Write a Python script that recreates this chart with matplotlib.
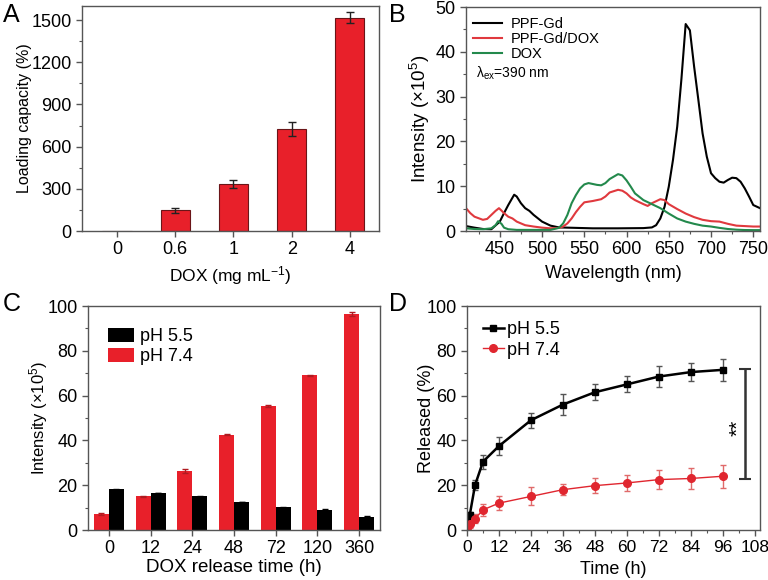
import numpy as np
import matplotlib
matplotlib.use("Agg")
import matplotlib.pyplot as plt
from matplotlib.ticker import MultipleLocator
from matplotlib.lines import Line2D

plt.rcParams['font.family'] = ['Liberation Sans', 'DejaVu Sans']
plt.rcParams['mathtext.default'] = 'regular'
plt.rcParams['font.size'] = 13
plt.rcParams['axes.edgecolor'] = '#555555'
plt.rcParams['axes.linewidth'] = 1.0
plt.rcParams['xtick.color'] = '#555555'
plt.rcParams['ytick.color'] = '#555555'
plt.rcParams['xtick.labelcolor'] = 'black'
plt.rcParams['ytick.labelcolor'] = 'black'

RED = '#e8202a'
GREEN = '#23894c'

# ---- A: loading capacity
dox_conc = ['0', '0.6', '1', '2', '4']
loading = [0, 146, 333, 728, 1517]
loading_err = [0, 16, 27, 50, 38]

# ---- B: emission spectra
wl_gd = [410, 420, 430, 440, 450, 455, 460, 467, 470, 475, 480, 485, 490, 500, 510, 520,
         530, 540, 560, 590, 620, 630, 635, 640, 645, 650, 655, 660, 665, 670, 675, 680,
         685, 690, 695, 700, 705, 710, 715, 720, 725, 730, 735, 740, 745, 750, 758]
int_gd = [1.1, 0.75, 0.45, 0.4, 2.1, 4.0, 5.8, 8.1, 7.7, 6.2, 5.1, 4.5, 3.6, 2.1, 1.2, 0.8,
          0.75, 0.7, 0.6, 0.6, 0.65, 0.8, 1.3, 2.8, 5.4, 9.9, 15.9, 23.3, 34.0, 46.2, 44.8, 36.7,
          29.3, 21.8, 16.6, 12.9, 11.8, 11.0, 10.8, 11.4, 11.9, 11.8, 11.0, 9.5, 7.7, 5.8, 5.1]

wl_gd_dox = [410, 415, 420, 430, 435, 440, 445, 449, 455, 460, 465, 470, 480, 490, 500, 510,
             520, 525, 530, 535, 540, 545, 550, 560, 570, 575, 580, 590, 595, 600, 605, 610,
             620, 625, 630, 640, 645, 650, 660, 670, 680, 690, 700, 710, 720, 730, 740, 750, 758]
int_gd_dox = [5.1, 4.0, 3.2, 2.5, 2.7, 3.6, 4.5, 5.1, 4.0, 3.2, 2.8, 2.1, 1.3, 1.0, 0.75, 0.6,
              0.7, 1.0, 1.7, 2.8, 4.2, 5.4, 6.4, 6.7, 7.1, 7.7, 8.6, 9.2, 9.0, 8.4, 7.5, 6.9,
              6.0, 5.6, 6.2, 7.1, 6.9, 6.0, 4.9, 3.9, 3.1, 2.5, 2.2, 2.1, 1.6, 1.2, 1.1, 1.0, 1.0]

wl_dox = [410, 420, 430, 440, 445, 448, 452, 455, 460, 470, 510, 520, 525, 530, 535, 540,
          545, 550, 555, 560, 565, 570, 575, 580, 590, 595, 600, 605, 610, 620, 630, 640,
          650, 660, 670, 680, 690, 700, 710, 720, 730, 740, 750, 758]
int_dox = [0.6, 0.45, 0.4, 0.6, 1.3, 2.2, 1.6, 0.75, 0.4, 0.25, 0.25, 0.7, 1.7, 3.6, 6.2, 8.0,
           9.5, 10.4, 10.7, 10.5, 10.3, 10.2, 10.7, 11.6, 12.7, 12.4, 11.3, 9.9, 8.4, 6.9, 6.0, 5.1,
           3.9, 2.8, 2.1, 1.6, 1.2, 1.0, 0.7, 0.45, 0.3, 0.22, 0.2, 0.2]

# ---- C: release intensity
release_time = ['0', '12', '24', '48', '72', '120', '360']
int_ph55 = [18.2, 16.5, 15.0, 12.5, 10.2, 9.0, 6.0]
int_ph55_err = [0.2, 0.2, 0.2, 0.2, 0.2, 0.4, 0.4]
int_ph74 = [7.2, 15.0, 26.3, 42.6, 55.4, 69.0, 96.4]
int_ph74_err = [0.4, 0.3, 0.9, 0.3, 0.3, 0.4, 0.9]

# ---- D: cumulative release
t_h = [0, 1, 3, 6, 12, 24, 36, 48, 60, 72, 84, 96]
rel_ph55 = [4.0, 6.5, 20.0, 30.5, 37.5, 49.0, 56.0, 61.5, 65.0, 68.5, 70.5, 71.5]
rel_ph55_err = [0.8, 1.5, 2.3, 3.2, 4.0, 3.3, 4.7, 3.5, 3.6, 4.6, 4.0, 5.0]
rel_ph74 = [0.8, 2.5, 5.0, 9.0, 12.0, 15.0, 18.0, 19.8, 21.0, 22.5, 23.0, 24.0]
rel_ph74_err = [0.8, 1.5, 2.0, 2.6, 3.0, 4.0, 2.5, 3.5, 3.7, 4.2, 4.5, 5.2]

fig = plt.figure(figsize=(7.68, 5.8), dpi=100)
axA = fig.add_axes([0.1068, 0.6017, 0.3867, 0.3879])
axB = fig.add_axes([0.6068, 0.6017, 0.3828, 0.3862])
axC = fig.add_axes([0.1146, 0.0862, 0.3802, 0.3862])
axD = fig.add_axes([0.6081, 0.0862, 0.3815, 0.3862])

for ax in (axA, axB, axC, axD):
    ax.tick_params(which='major', direction='out', length=4, width=1)
    ax.tick_params(which='minor', direction='out', length=2.5, width=0.8)

# A
xa = np.arange(len(dox_conc))
axA.bar(xa, loading, width=0.5, color=RED, edgecolor='#6a1518', linewidth=0.8)
axA.errorbar(xa[1:], loading[1:], yerr=loading_err[1:], fmt='none', ecolor='#222222',
             elinewidth=1, capsize=3)
axA.set_xlim(-0.6, 4.5)
axA.set_ylim(0, 1600)
axA.set_xticks(xa)
axA.set_xticklabels(dox_conc)
axA.yaxis.set_major_locator(MultipleLocator(300))
axA.yaxis.set_minor_locator(MultipleLocator(150))
axA.set_xlabel('DOX (mg mL$^{-1}$)', fontsize=12.5)
axA.set_ylabel('Loading capacity (%)', fontsize=11.5)
axA.yaxis.set_label_coords(-0.168, 0.5)

# B
axB.plot(wl_gd, int_gd, color='black', lw=1.5)
axB.plot(wl_gd_dox, int_gd_dox, color='#e0393e', lw=1.5)
axB.plot(wl_dox, int_dox, color=GREEN, lw=1.5)
axB.set_xlim(410, 758)
axB.set_ylim(0, 50)
axB.xaxis.set_major_locator(MultipleLocator(50))
axB.xaxis.set_minor_locator(MultipleLocator(25))
axB.yaxis.set_major_locator(MultipleLocator(10))
axB.yaxis.set_minor_locator(MultipleLocator(5))
axB.set_xticks([450, 500, 550, 600, 650, 700, 750])
axB.set_xlabel('Wavelength (nm)', labelpad=5)
axB.set_ylabel('Intensity (×10$^5$)', fontsize=13.5)
axB.yaxis.set_label_coords(-0.116, 0.5)
b_handles = [Line2D([], [], color='black', lw=1.5),
             Line2D([], [], color='#e0393e', lw=1.5),
             Line2D([], [], color=GREEN, lw=1.5)]
axB.legend(b_handles, ['PPF-Gd', 'PPF-Gd/DOX', 'DOX'], loc='upper left', frameon=False,
           fontsize=10.5, handlelength=2.0, handletextpad=0.6, labelspacing=0.05,
           borderaxespad=0, bbox_to_anchor=(0.005, 0.98))
axB.text(0.035, 0.705, 'λ$_{ex}$=390 nm', transform=axB.transAxes, fontsize=10,
         va='center')

# C
xc = np.arange(len(release_time))
w = 0.36
axC.bar(xc + w / 2, int_ph55, width=w, color='black', label='pH 5.5',
        yerr=int_ph55_err, error_kw=dict(ecolor='black', elinewidth=1, capsize=2))
axC.bar(xc - w / 2, int_ph74, width=w, color=RED, label='pH 7.4',
        yerr=int_ph74_err, error_kw=dict(ecolor='#b01a20', elinewidth=1, capsize=2))
axC.set_xlim(-0.5, 6.5)
axC.set_ylim(0, 100)
axC.set_xticks(xc)
axC.set_xticklabels(release_time)
axC.yaxis.set_major_locator(MultipleLocator(20))
axC.yaxis.set_minor_locator(MultipleLocator(10))
axC.set_xlabel('DOX release time (h)', fontsize=13.5, labelpad=1)
axC.set_ylabel('Intensity (×10$^5$)', fontsize=12)
axC.yaxis.set_label_coords(-0.13, 0.5)
axC.legend(loc='upper left', frameon=False, fontsize=13, handlelength=1.4,
           handleheight=0.85, handletextpad=0.35, labelspacing=0.15,
           borderaxespad=0, bbox_to_anchor=(0.045, 0.935))

# D
axD.errorbar(t_h, rel_ph55, yerr=rel_ph55_err, color='black', lw=1.8, marker='s',
             markersize=4, ecolor='#555555', elinewidth=1, capsize=2.5)
axD.errorbar(t_h, rel_ph74, yerr=rel_ph74_err, color='#e0262f', lw=1, marker='o',
             markersize=5.5, ecolor='#e06a6a', elinewidth=1, capsize=2.5)
axD.set_xlim(0, 110)
axD.set_ylim(0, 100)
axD.xaxis.set_major_locator(MultipleLocator(12))
axD.xaxis.set_minor_locator(MultipleLocator(6))
axD.yaxis.set_major_locator(MultipleLocator(20))
axD.yaxis.set_minor_locator(MultipleLocator(10))
axD.tick_params(axis='x', labelsize=12.5)
axD.set_xlabel('Time (h)')
axD.set_ylabel('Released (%)')
axD.yaxis.set_label_coords(-0.109, 0.5)
d_handles = [Line2D([], [], color='black', lw=1.8, marker='s', markersize=4),
             Line2D([], [], color='#e0262f', lw=1, marker='o', markersize=5.5)]
axD.legend(d_handles, ['pH 5.5', 'pH 7.4'], loc='upper left', frameon=False, fontsize=13,
           handlelength=1.15, handletextpad=0.15, labelspacing=0.2,
           borderaxespad=0, bbox_to_anchor=(0.03, 0.965))
# significance bracket
axD.errorbar([104.3], [47.4], yerr=[[24.6], [24.6]], fmt='none', ecolor='#333333',
             elinewidth=1.8, capsize=4, capthick=1.5)
axD.text(101.6, 45.5, '**', rotation=90, ha='center', va='center', fontsize=15)

# panel letters
for lbl, x, y in [('A', 0.004, 0.995), ('B', 0.506, 0.995), ('C', 0.004, 0.497), ('D', 0.506, 0.497)]:
    fig.text(x, y, lbl, fontsize=18, ha='left', va='top')

fig.savefig('out.png', dpi=100)
